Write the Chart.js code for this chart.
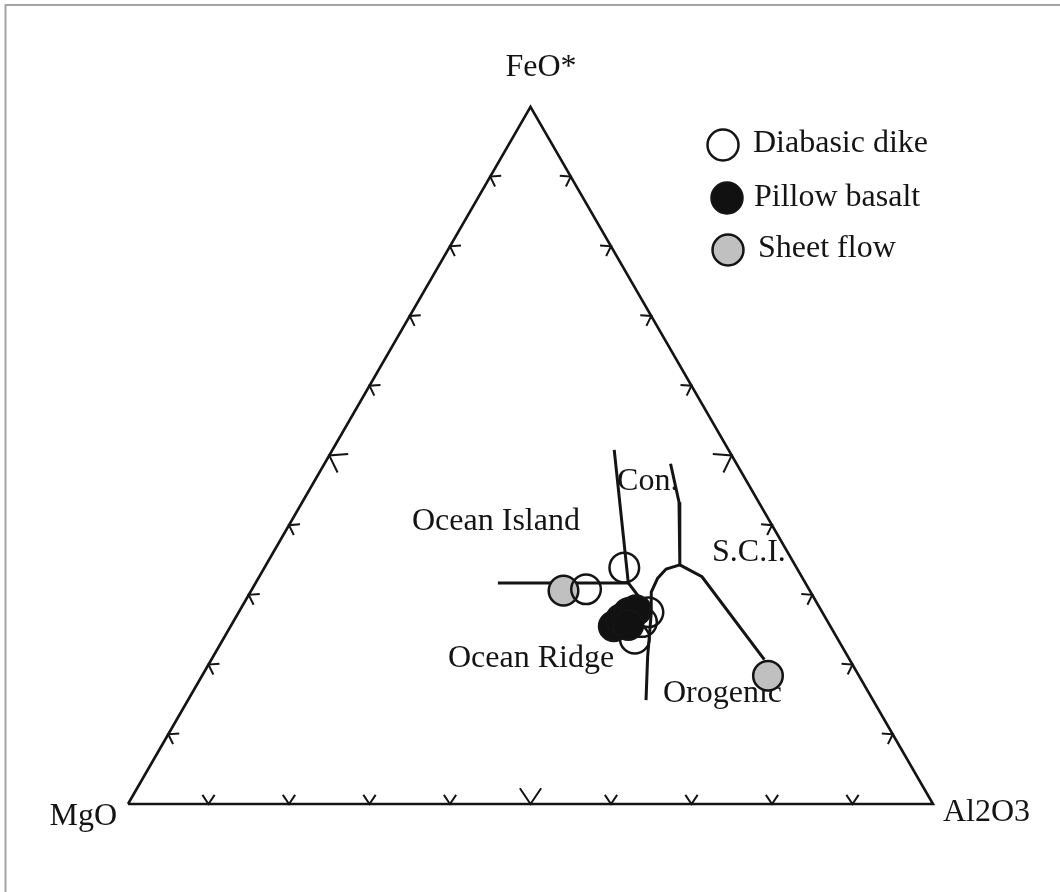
<!DOCTYPE html>
<html>
<head>
<meta charset="utf-8">
<title>MgO - FeO* - Al2O3</title>
<script src="https://cdn.jsdelivr.net/npm/chart.js@4.4.1/dist/chart.umd.min.js"></script>
<style>
  html, body { margin: 0; padding: 0; background: #fff; }
  #wrap { width: 1060px; height: 892px; position: relative; }
</style>
</head>
<body>
<div id="wrap"><canvas id="tern" width="1060" height="892"></canvas></div>
<script>
// ---- data: compositions as [MgO, FeO*, Al2O3] (wt%, normalised to 100) ----
const apexLabels = ['MgO', 'FeO*', 'Al2O3'];
const seriesNames = ['Diabasic dike', 'Pillow basalt', 'Sheet flow'];

const diabasicDike = [[21.4, 33.9, 44.7], [27.7, 30.8, 41.5], [21.6, 27.5, 50.9], [23.1, 26.1, 50.8], [25.2, 23.7, 51.1]];
const pillowBasalt = [[26.9, 25.5, 47.6], [25.5, 26.5, 48.0], [24.1, 27.4, 48.5], [23.0, 27.8, 49.2], [25.0, 25.7, 49.3]];
const sheetFlow    = [[30.6, 30.6, 38.8], [11.3, 18.4, 70.3]];

// tectonic field boundaries (Pearce et al., 1977)
const boundaryIslandCont    = [[14.2, 50.8, 35.0], [22.0, 31.7, 46.3], [21.3, 27.4, 51.3]];
const boundaryIslandRidge   = [[38.2, 31.7, 30.1], [22.0, 31.7, 46.3]];
const boundaryRidgeOrogenic = [[28.2, 14.9, 56.9], [24.9, 21.1, 54.0], [21.3, 27.4, 51.3], [19.8, 30.4, 49.8],
                               [18.0, 32.4, 49.6], [16.3, 33.7, 50.0], [14.3, 34.3, 51.4]];
const boundaryContSci       = [[8.2, 48.8, 43.0], [9.9, 43.3, 46.8], [14.3, 34.3, 51.4]];
const boundarySciOrogenic   = [[14.3, 34.3, 51.4], [12.4, 32.6, 55.0], [10.6, 20.7, 68.7]];

const fieldNames = ['Ocean Island', 'Ocean Ridge', 'Orogenic', 'S.C.I.', 'Con.'];
const tickStep = 10; // percent between edge ticks

// ---- ternary -> cartesian (side length 1, MgO at origin) ----
const SQ3_2 = Math.sqrt(3) / 2;
function toXY(c) {
  const s = c[0] + c[1] + c[2];
  return { x: (c[2] + c[1] / 2) / s, y: (c[1] / s) * SQ3_2 };
}
const outline = [[100, 0, 0], [0, 0, 100], [0, 100, 0], [100, 0, 0]];

// ---- layout ----
const FONT = '32px "Liberation Serif", "Times New Roman", serif';
const INK = '#141414';
const view = { xMin: -128 / 805, xMax: 932 / 805, yMin: -88 / 805, yMax: 804 / 805 };
// label anchors in cartesian plot units (left edge, baseline)
const fieldAnchors = [
  { x: 0.3528, y: 0.3404 },
  { x: 0.3975, y: 0.1702 },
  { x: 0.6646, y: 0.1267 },
  { x: 0.7255, y: 0.3019 },
  { x: 0.6075, y: 0.3901 }
];
// legend rows: marker centre and text start (pixels)
const legendRows = [
  { mx: 723, my: 145, tx: 753, ty: 152 },
  { mx: 727, my: 198, tx: 754, ty: 206 },
  { mx: 728, my: 250, tx: 758, ty: 257 }
];
const legendR = 15.5;

function lineSet(pts, width) {
  return {
    data: pts.map(toXY), showLine: true, pointRadius: 0, borderColor: INK,
    borderWidth: width, borderJoinStyle: 'miter', borderCapStyle: 'butt',
    tension: 0, fill: false, order: 10
  };
}
function pointSet(label, pts, fill, order) {
  return {
    label, data: pts.map(toXY), showLine: false, pointRadius: 14.8,
    pointHoverRadius: 14.8, pointBackgroundColor: fill, pointBorderColor: INK,
    pointBorderWidth: 2.5, backgroundColor: fill, borderColor: INK, order
  };
}

const datasets = [
  pointSet(seriesNames[1], pillowBasalt, '#111111', 0),
  pointSet(seriesNames[0], diabasicDike, 'rgba(255,255,255,0)', 1),
  pointSet(seriesNames[2], sheetFlow, '#c0c0c0', 2),
  lineSet(boundaryIslandCont, 3),
  lineSet(boundaryIslandRidge, 3),
  lineSet(boundaryRidgeOrogenic, 3),
  lineSet(boundaryContSci, 3),
  lineSet(boundarySciOrogenic, 3),
  Object.assign(lineSet(outline, 2.6), { order: 11 })
];
const legendOrder = [1, 0, 2]; // dataset indices: Diabasic dike, Pillow basalt, Sheet flow

function toPx(chart, p) {
  return { x: chart.scales.x.getPixelForValue(p.x), y: chart.scales.y.getPixelForValue(p.y) };
}

const ternaryDecor = {
  id: 'ternaryDecor',
  beforeDraw(chart) {
    const ctx = chart.ctx;
    ctx.save();
    ctx.fillStyle = '#ffffff';
    ctx.fillRect(0, 0, chart.width, chart.height);
    ctx.strokeStyle = '#a4a4a4';
    ctx.lineWidth = 2;
    ctx.beginPath();
    ctx.moveTo(5.5, chart.height);
    ctx.lineTo(5.5, 5);
    ctx.lineTo(chart.width, 5);
    ctx.stroke();
    ctx.restore();
  },
  beforeDatasetsDraw(chart) {
    const ctx = chart.ctx;
    ctx.save();
    ctx.font = FONT;
    ctx.fillStyle = INK;
    ctx.textAlign = 'left';
    ctx.textBaseline = 'alphabetic';
    fieldNames.forEach((name, i) => {
      const p = toPx(chart, fieldAnchors[i]);
      ctx.fillText(name, p.x, p.y);
    });
    ctx.restore();
  },
  afterDatasetsDraw(chart) {
    const ctx = chart.ctx;
    const V = [toXY([100, 0, 0]), toXY([0, 100, 0]), toXY([0, 0, 100])].map(v => toPx(chart, v));
    const cx = (V[0].x + V[1].x + V[2].x) / 3, cy = (V[0].y + V[1].y + V[2].y) / 3;
    const edges = [[V[0], V[2]], [V[0], V[1]], [V[1], V[2]]];
    const spread = 34 * Math.PI / 180;
    ctx.save();
    ctx.strokeStyle = INK;
    ctx.lineWidth = 2;
    ctx.lineCap = 'butt';
    ctx.lineJoin = 'miter';
    edges.forEach(([A, B]) => {
      let nx = -(B.y - A.y), ny = B.x - A.x;
      const nl = Math.hypot(nx, ny);
      nx /= nl; ny /= nl;
      const mx = (A.x + B.x) / 2, my = (A.y + B.y) / 2;
      if ((cx - mx) * nx + (cy - my) * ny < 0) { nx = -nx; ny = -ny; }
      for (let v = tickStep; v < 100; v += tickStep) {
        const t = v / 100;
        const px = A.x + t * (B.x - A.x), py = A.y + t * (B.y - A.y);
        const len = v === 50 ? 19 : 11;
        const a1 = Math.atan2(ny, nx) - spread, a2 = Math.atan2(ny, nx) + spread;
        ctx.beginPath();
        ctx.moveTo(px + len * Math.cos(a1), py + len * Math.sin(a1));
        ctx.lineTo(px, py);
        ctx.lineTo(px + len * Math.cos(a2), py + len * Math.sin(a2));
        ctx.stroke();
      }
    });
    ctx.restore();
  },
  afterDraw(chart) {
    const ctx = chart.ctx;
    const V = [toXY([100, 0, 0]), toXY([0, 100, 0]), toXY([0, 0, 100])].map(v => toPx(chart, v));
    ctx.save();
    ctx.font = FONT;
    ctx.fillStyle = INK;
    ctx.textBaseline = 'alphabetic';
    ctx.textAlign = 'right';
    ctx.fillText(apexLabels[0], V[0].x - 11, V[0].y + 21);
    ctx.textAlign = 'center';
    ctx.fillText(apexLabels[1], V[1].x + 10.5, V[1].y - 31);
    ctx.textAlign = 'left';
    ctx.fillText(apexLabels[2], V[2].x + 10, V[2].y + 17);

    // legend
    legendOrder.forEach((di, k) => {
      const ds = chart.data.datasets[di];
      const row = legendRows[k];
      ctx.beginPath();
      ctx.arc(row.mx, row.my, legendR, 0, Math.PI * 2);
      ctx.fillStyle = ds.pointBackgroundColor === 'rgba(255,255,255,0)' ? '#ffffff' : ds.pointBackgroundColor;
      ctx.fill();
      ctx.lineWidth = 2.5;
      ctx.strokeStyle = INK;
      ctx.stroke();
      ctx.fillStyle = INK;
      ctx.textAlign = 'left';
      ctx.fillText(ds.label, row.tx, row.ty);
    });
    ctx.restore();
  }
};

new Chart(document.getElementById('tern'), {
  type: 'scatter',
  data: { datasets },
  options: {
    responsive: false,
    animation: false,
    events: [],
    layout: { padding: 0, autoPadding: false },
    scales: {
      x: { type: 'linear', min: view.xMin, max: view.xMax, display: false },
      y: { type: 'linear', min: view.yMin, max: view.yMax, display: false }
    },
    plugins: { legend: { display: false }, tooltip: { enabled: false } }
  },
  plugins: [ternaryDecor]
});
</script>
</body>
</html>
